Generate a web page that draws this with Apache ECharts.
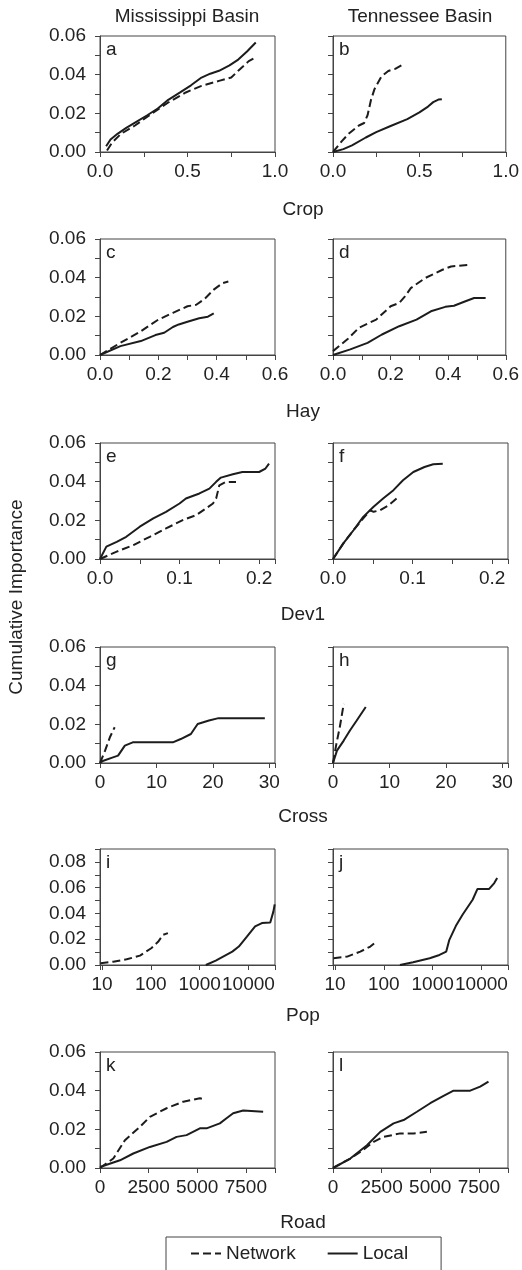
<!DOCTYPE html>
<html>
<head>
<meta charset="utf-8">
<script src="https://cdn.jsdelivr.net/npm/echarts@6/dist/echarts.min.js"></script>
<style>
html, body { margin: 0; padding: 0; background: #fff; }
#chart { width: 522px; height: 1270px; }
</style>
</head>
<body>
<div id="chart"></div>
<script>
const basins = ['Mississippi Basin', 'Tennessee Basin']
const predictors = ['Crop', 'Hay', 'Dev1', 'Cross', 'Pop', 'Road']
const panelLetters = ['a', 'b', 'c', 'd', 'e', 'f', 'g', 'h', 'i', 'j', 'k', 'l']
const seriesNames = ['Network', 'Local']

/* tick labels */
const yTicks = [0, 0.02, 0.04, 0.06]
const popYTicks = [0, 0.02, 0.04, 0.06, 0.08]
const cropTicks = [0, 0.5, 1.0]
const hayTicks = [0, 0.2, 0.4, 0.6]
const devTicks = [0, 0.1, 0.2]
const crossTicks = [0, 10, 20, 30]
const popTicks = [10, 100, 1000, 10000]
const roadTicks = [0, 2500, 5000, 7500]

/* Crop */
const cropMissNet = [[0.04, 0.0008], [0.07, 0.005], [0.12, 0.0094], [0.2, 0.0137], [0.29, 0.0195], [0.39, 0.0256], [0.49, 0.0308], [0.58, 0.0342], [0.68, 0.0368], [0.75, 0.0385], [0.79, 0.042], [0.85, 0.047], [0.89, 0.049]]
const cropMissLoc = [[0.035, 0.003], [0.06, 0.0065], [0.1, 0.0094], [0.15, 0.0125], [0.2, 0.0152], [0.27, 0.019], [0.33, 0.0225], [0.39, 0.027], [0.46, 0.031], [0.52, 0.0345], [0.58, 0.0385], [0.63, 0.0405], [0.68, 0.042], [0.74, 0.0448], [0.79, 0.0478], [0.84, 0.052], [0.89, 0.0566]]
const cropTennNet = [[0, 0], [0.05, 0.0055], [0.09, 0.0094], [0.15, 0.0137], [0.18, 0.015], [0.2, 0.019], [0.22, 0.027], [0.24, 0.0325], [0.28, 0.039], [0.32, 0.0419], [0.36, 0.043], [0.4, 0.045]]
const cropTennLoc = [[0, 0], [0.06, 0.0015], [0.11, 0.0034], [0.19, 0.0075], [0.25, 0.0103], [0.33, 0.0133], [0.43, 0.017], [0.5, 0.0205], [0.55, 0.0235], [0.58, 0.0258], [0.61, 0.0271], [0.63, 0.0273]]

/* Hay */
const hayMissNet = [[0, 0], [0.07, 0.0063], [0.14, 0.0123], [0.2, 0.0183], [0.25, 0.0218], [0.3, 0.0252], [0.33, 0.026], [0.36, 0.0292], [0.39, 0.0338], [0.42, 0.0372], [0.44, 0.038]]
const hayMissLoc = [[0, 0], [0.07, 0.0046], [0.14, 0.0072], [0.19, 0.0103], [0.22, 0.0115], [0.25, 0.0145], [0.27, 0.0158], [0.3, 0.0172], [0.34, 0.019], [0.37, 0.0198], [0.39, 0.0215]]
const hayTennNet = [[0, 0.002], [0.05, 0.0081], [0.09, 0.0141], [0.15, 0.0183], [0.2, 0.0252], [0.23, 0.0269], [0.25, 0.0303], [0.27, 0.0346], [0.32, 0.0398], [0.38, 0.0441], [0.41, 0.0458], [0.47, 0.0466]]
const hayTennLoc = [[0, 0], [0.06, 0.0029], [0.12, 0.0063], [0.17, 0.0106], [0.23, 0.0149], [0.29, 0.0183], [0.34, 0.0226], [0.39, 0.0249], [0.42, 0.0255], [0.46, 0.0278], [0.49, 0.0295], [0.53, 0.0295]]

/* Dev1 */
const devMissNet = [[0, 0], [0.021, 0.0038], [0.042, 0.0072], [0.0625, 0.0115], [0.083, 0.0158], [0.104, 0.0201], [0.121, 0.0227], [0.133, 0.0261], [0.142, 0.0287], [0.146, 0.0313], [0.15, 0.0381], [0.158, 0.0398], [0.171, 0.0398]]
const devMissLoc = [[0, 0], [0.008, 0.0064], [0.021, 0.0089], [0.033, 0.0115], [0.05, 0.0167], [0.067, 0.021], [0.083, 0.0244], [0.1, 0.0287], [0.108, 0.0313], [0.125, 0.0339], [0.1375, 0.0364], [0.146, 0.0399], [0.152, 0.0421], [0.167, 0.0438], [0.179, 0.045], [0.2, 0.045], [0.208, 0.0468], [0.2125, 0.0493]]
const devTennNet = [[0, 0], [0.013, 0.0081], [0.026, 0.015], [0.038, 0.021], [0.047, 0.0252], [0.051, 0.0244], [0.059, 0.0252], [0.07, 0.0278], [0.082, 0.032]]
const devTennLoc = [[0, 0], [0.013, 0.0081], [0.026, 0.015], [0.038, 0.0218], [0.051, 0.027], [0.063, 0.0313], [0.076, 0.0356], [0.088, 0.0407], [0.101, 0.045], [0.115, 0.0476], [0.126, 0.049], [0.138, 0.0493]]

/* Cross */
const crossMissNet = [[0, 0], [0.9, 0.0064], [1.75, 0.0133], [2.6, 0.0185]]
const crossMissLoc = [[0, 0], [0.6, 0.0012], [2.3, 0.0029], [3.2, 0.0038], [4.4, 0.009], [5.8, 0.0107], [8.8, 0.0107], [12.9, 0.0107], [14.3, 0.0124], [16.1, 0.015], [17.3, 0.0202], [19.3, 0.022], [21, 0.0232], [24.6, 0.0232], [29.2, 0.0232]]
const crossTennNet = [[0, 0], [0.6, 0.0099], [1.2, 0.0185], [1.9, 0.0306]]
const crossTennLoc = [[0, 0], [0.7, 0.0064], [1.9, 0.0116], [3.0, 0.0168], [4.2, 0.022], [5.8, 0.029]]

/* Pop */
const popMissNet = [[9.3, 0.0013], [17, 0.0026], [32, 0.0044], [60, 0.0073], [102, 0.013], [141, 0.018], [178, 0.0234], [224, 0.0247]]
const popMissLoc = [[1340, 0], [2140, 0.0034], [4670, 0.0104], [6350, 0.0143], [9300, 0.022], [13700, 0.0299], [18900, 0.0325], [28000, 0.033], [32500, 0.0416], [34500, 0.047]]
const popTennNet = [[9.3, 0.0052], [17.8, 0.0065], [33, 0.0104], [53, 0.0143], [66, 0.0174]]
const popTennLoc = [[214, 0], [398, 0.0021], [870, 0.0052], [1380, 0.0078], [1900, 0.0104], [2200, 0.0195], [3000, 0.0304], [4100, 0.039], [4800, 0.0429], [6600, 0.0506], [8300, 0.059], [14400, 0.059], [18300, 0.0636], [21000, 0.0675]]

/* Road */
const roadMissNet = [[0, 0], [685, 0.0049], [1284, 0.0144], [2055, 0.0213], [2568, 0.0265], [3425, 0.0309], [4281, 0.0343], [5137, 0.0361], [5308, 0.0356]]
const roadMissLoc = [[0, 0.0005], [1027, 0.004], [1712, 0.0075], [2568, 0.0109], [3425, 0.0135], [3938, 0.0161], [4452, 0.017], [5137, 0.0205], [5479, 0.0205], [6164, 0.0231], [6507, 0.0257], [6849, 0.0283], [7363, 0.0297], [8390, 0.0291]]
const roadTennNet = [[0, 0], [890, 0.0049], [1404, 0.0083], [2089, 0.0135], [2603, 0.0161], [3459, 0.0179], [4144, 0.0179], [4829, 0.0187]]
const roadTennLoc = [[0, 0], [890, 0.0049], [1747, 0.0118], [2432, 0.0187], [3116, 0.0231], [3630, 0.0248], [4315, 0.0291], [5000, 0.0335], [5685, 0.0373], [6199, 0.04], [7055, 0.04], [7568, 0.0421], [7996, 0.0447]]

const FONT = 'Liberation Sans, Arial, sans-serif'
const FS = 19
const INK = '#1c1c1c'
const FRAME = '#444'

const colLefts = [100, 333]
const plotWidth = 175
const rowTops = [36, 239, 443, 647, 849, 1052]
const plotHeight = 116
const axisNameY = [210, 412, 615, 817, 1016, 1223]

/* 每行的横轴设置 */
const rows = [
  { x: { type: 'value', min: 0, max: 1, interval: 0.25 }, ticks: cropTicks, digits: 1, yMax: 0.06, yTicks: yTicks, data: [[cropMissNet, cropMissLoc], [cropTennNet, cropTennLoc]] },
  { x: { type: 'value', min: 0, max: 0.6, interval: 0.1 }, ticks: hayTicks, digits: 1, yMax: 0.06, yTicks: yTicks, data: [[hayMissNet, hayMissLoc], [hayTennNet, hayTennLoc]] },
  { x: { type: 'value', min: 0, max: 0.22, interval: 0.05 }, ticks: devTicks, digits: 1, yMax: 0.06, yTicks: yTicks, data: [[devMissNet, devMissLoc], [devTennNet, devTennLoc]] },
  { x: { type: 'value', min: 0, max: 31, interval: 10 }, ticks: crossTicks, digits: 0, yMax: 0.06, yTicks: yTicks, data: [[crossMissNet, crossMissLoc], [crossTennNet, crossTennLoc]] },
  { x: { type: 'log', min: 9.1, max: 35000, logBase: 10 }, ticks: popTicks, digits: 0, yMax: 0.09, yTicks: popYTicks, data: [[popMissNet, popMissLoc], [popTennNet, popTennLoc]] },
  { x: { type: 'value', min: 0, max: 9000, interval: 2500 }, ticks: roadTicks, digits: 0, yMax: 0.06, yTicks: yTicks, data: [[roadMissNet, roadMissLoc], [roadTennNet, roadTennLoc]] }
]

const onTick = (ticks, v) => ticks.some(t => Math.abs(t - v) <= 1e-7 * Math.max(1, Math.abs(t)))

const grid = []
const xAxis = []
const yAxis = []
const series = []
const graphic = []

rows.forEach((row, r) => {
  for (let c = 0; c < 2; c++) {
    const idx = grid.length
    grid.push({
      left: colLefts[c], top: rowTops[r], width: plotWidth, height: plotHeight,
      show: true, borderColor: FRAME, borderWidth: 1, backgroundColor: 'transparent'
    })
    xAxis.push(Object.assign({}, row.x, {
      gridIndex: idx,
      axisLine: { onZero: false, lineStyle: { color: FRAME, width: 1 } },
      axisTick: { show: true, length: 5, lineStyle: { color: FRAME } },
      minorTick: { show: false },
      splitLine: { show: false },
      axisLabel: {
        margin: 10, fontSize: FS, fontFamily: FONT, color: '#222',
        formatter: v => onTick(row.ticks, v) ? v.toFixed(row.digits) : ''
      }
    }))
    yAxis.push({
      type: 'value', gridIndex: idx, min: 0, max: row.yMax, interval: 0.01,
      axisLine: { show: true, lineStyle: { color: FRAME, width: 1 } },
      axisTick: { show: true, length: 5, lineStyle: { color: FRAME } },
      splitLine: { show: false },
      axisLabel: {
        show: c === 0, margin: 14, fontSize: FS, fontFamily: FONT, color: '#222',
        formatter: v => onTick(row.yTicks, v) ? v.toFixed(2) : ''
      }
    })
    row.data[c].forEach((pts, s) => {
      series.push({
        type: 'line', name: seriesNames[s], xAxisIndex: idx, yAxisIndex: idx,
        data: pts, symbol: 'none', showSymbol: false, silent: true, animation: false,
        color: INK,
        lineStyle: { color: INK, width: 2, type: s === 0 ? [8, 4] : 'solid' }
      })
    })
    graphic.push({
      type: 'text', x: colLefts[c] + 6, y: rowTops[r] + 4,
      style: { text: panelLetters[idx], fontSize: FS, fontFamily: FONT, fill: '#222', align: 'left', verticalAlign: 'top' }
    })
  }
  graphic.push({
    type: 'text', x: 303, y: axisNameY[r],
    style: { text: predictors[r], fontSize: FS, fontFamily: FONT, fill: '#222', align: 'center', verticalAlign: 'middle' }
  })
})

graphic.push(
  { type: 'text', x: 187, y: 17, style: { text: basins[0], fontSize: FS, fontFamily: FONT, fill: '#222', align: 'center', verticalAlign: 'middle' } },
  { type: 'text', x: 420, y: 17, style: { text: basins[1], fontSize: FS, fontFamily: FONT, fill: '#222', align: 'center', verticalAlign: 'middle' } },
  { type: 'text', x: 17, y: 597, rotation: Math.PI / 2, style: { text: 'Cumulative Importance', fontSize: FS, fontFamily: FONT, fill: '#222', align: 'center', verticalAlign: 'middle' } }
)

const myChart = echarts.init(document.getElementById('chart'), null, { renderer: 'canvas' })
myChart.setOption({
  animation: false,
  backgroundColor: '#fff',
  grid, xAxis, yAxis, series, graphic,
  legend: {
    data: seriesNames,
    left: 166, top: 1237,
    padding: [7, 33, 14, 24],
    itemGap: 31, itemWidth: 30, itemHeight: 14,
    borderColor: FRAME, borderWidth: 1,
    selectedMode: false,
    itemStyle: { color: 'rgba(0,0,0,0)', borderColor: 'rgba(0,0,0,0)', borderWidth: 0, opacity: 0 },
    textStyle: { fontSize: FS, fontFamily: FONT, color: '#222' }
  }
})
</script>
</body>
</html>
